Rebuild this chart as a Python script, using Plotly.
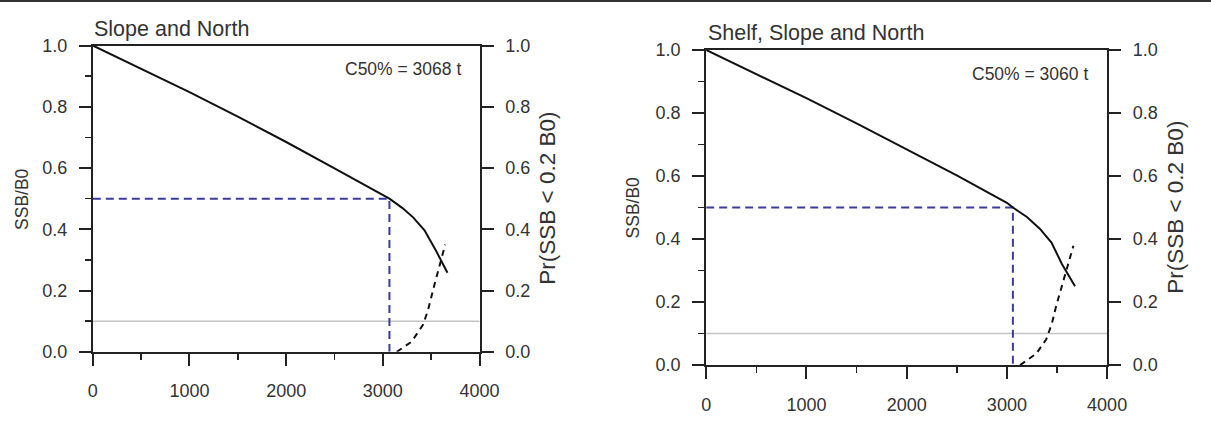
import plotly.graph_objects as go

# ---------------- data ----------------
panel_titles = ["Slope and North", "Shelf, Slope and North"]
c50_values = [3068, 3060]

# Left panel: Slope and North
left_catch = [0, 500, 1000, 1500, 2000, 2500, 3000, 3068, 3200, 3313, 3431, 3550, 3668]
left_ssb = [1.0, 0.925, 0.848, 0.768, 0.685, 0.599, 0.512, 0.5, 0.47, 0.439, 0.397, 0.33, 0.258]
left_pr_catch = [3144, 3297, 3415, 3465, 3532, 3590, 3645]
left_pr = [0.0, 0.033, 0.088, 0.134, 0.217, 0.289, 0.35]

# Right panel: Shelf, Slope and North
right_catch = [0, 500, 1000, 1500, 2000, 2500, 3000, 3060, 3200, 3328, 3445, 3550, 3680]
right_ssb = [1.0, 0.924, 0.847, 0.767, 0.684, 0.602, 0.515, 0.5, 0.47, 0.433, 0.389, 0.32, 0.25]
right_pr_catch = [3132, 3295, 3393, 3449, 3491, 3540, 3596, 3664]
right_pr = [0.0, 0.037, 0.082, 0.132, 0.187, 0.243, 0.30, 0.379]

ref_level = [0.1, 0.1]
ref_x = [0, 4000]
target_level = 0.5

x_ticks = [0, 1000, 2000, 3000, 4000]
y_ticks = [0.0, 0.2, 0.4, 0.6, 0.8, 1.0]
y_ticklabels = ["0.0", "0.2", "0.4", "0.6", "0.8", "1.0"]

# ---------------- figure ----------------
PAGE_W, PAGE_H = 1211, 423
BODY = 8                      # default browser body margin
W, H = PAGE_W - 2 * BODY, PAGE_H - 2 * BODY
FONT = "Liberation Sans, Arial, sans-serif"
TXT = "#333333"
AX = "#222222"
BLUE = "#3b3b9e"

fig = go.Figure()

panels = [
    dict(xa="x", ya="y", ya2="y2", catch=left_catch, ssb=left_ssb,
         pc=left_pr_catch, pr=left_pr, c50=c50_values[0]),
    dict(xa="x2", ya="y3", ya2="y4", catch=right_catch, ssb=right_ssb,
         pc=right_pr_catch, pr=right_pr, c50=c50_values[1]),
]

for p in panels:
    fig.add_trace(go.Scatter(x=ref_x, y=ref_level, xaxis=p["xa"], yaxis=p["ya"],
                             mode="lines", line=dict(color="#c4c4c4", width=1.5),
                             showlegend=False, hoverinfo="skip"))
    fig.add_trace(go.Scatter(x=[0, p["c50"], p["c50"]], y=[target_level, target_level, 0],
                             xaxis=p["xa"], yaxis=p["ya"], mode="lines",
                             line=dict(color=BLUE, width=2, dash="8px,5px"),
                             showlegend=False, hoverinfo="skip"))
    fig.add_trace(go.Scatter(x=p["catch"], y=p["ssb"], xaxis=p["xa"], yaxis=p["ya"],
                             mode="lines", line=dict(color="#111111", width=2),
                             showlegend=False))
    fig.add_trace(go.Scatter(x=p["pc"], y=p["pr"], xaxis=p["xa"], yaxis=p["ya2"],
                             mode="lines", line=dict(color="#111111", width=2, dash="6px,5px"),
                             showlegend=False))

# page pixel -> paper fraction
def px_x(v):
    return (v - BODY) / W

def px_y(v):
    return (H - (v - BODY)) / H

tickfont = dict(family=FONT, size=18, color=TXT)

def xaxis_cfg(domain, anchor):
    return dict(domain=domain, anchor=anchor, range=[0, 4000], tickvals=x_ticks,
                showline=True, mirror=True, linecolor=AX, linewidth=2,
                ticks="outside", ticklen=12, tickwidth=2, tickcolor=AX,
                minor=dict(dtick=500, tick0=0, ticks="outside", ticklen=6, tickwidth=1.5,
                           tickcolor=AX, showgrid=False),
                showgrid=False, zeroline=False, tickfont=tickfont,
                ticklabelstandoff=10, fixedrange=True)

def yaxis_cfg(domain, anchor):
    return dict(domain=domain, anchor=anchor, range=[0, 1], tickvals=y_ticks,
                ticktext=y_ticklabels,
                showline=True, linecolor=AX, linewidth=2,
                ticks="outside", ticklen=12, tickwidth=2, tickcolor=AX,
                minor=dict(dtick=0.1, tick0=0, ticks="outside", ticklen=6, tickwidth=1.5,
                           tickcolor=AX, showgrid=False),
                showgrid=False, zeroline=False, tickfont=tickfont,
                ticklabelstandoff=8, fixedrange=True)

def yaxis_right_cfg(overlay, anchor):
    return dict(overlaying=overlay, anchor=anchor, side="right", range=[0, 1],
                tickvals=y_ticks, ticktext=y_ticklabels,
                showline=True, linecolor=AX, linewidth=2,
                ticks="outside", ticklen=12, tickwidth=2, tickcolor=AX,
                showgrid=False, zeroline=False, tickfont=tickfont,
                ticklabelstandoff=8, fixedrange=True)

L_dom_x = [px_x(89.5), px_x(484.5)]
L_dom_y = [px_y(360), px_y(37)]
R_dom_x = [px_x(716), px_x(1125.5)]
R_dom_y = [px_y(374), px_y(41.7)]

fig.update_layout(
    width=W, height=H,
    margin=dict(l=0, r=0, t=0, b=0),
    paper_bgcolor="white", plot_bgcolor="white",
    showlegend=False,
    xaxis=xaxis_cfg(L_dom_x, "y"),
    yaxis=yaxis_cfg(L_dom_y, "x"),
    yaxis2=yaxis_right_cfg("y", "x"),
    xaxis2=xaxis_cfg(R_dom_x, "y3"),
    yaxis3=yaxis_cfg(R_dom_y, "x2"),
    yaxis4=yaxis_right_cfg("y3", "x2"),
)

annotations = []
annotations.append(dict(text=panel_titles[0], x=px_x(89), y=px_y(20), xref="paper", yref="paper",
                        xanchor="left", yanchor="middle", showarrow=False,
                        font=dict(family=FONT, size=21.5, color=TXT)))
annotations.append(dict(text=panel_titles[1], x=px_x(716), y=px_y(24), xref="paper", yref="paper",
                        xanchor="left", yanchor="middle", showarrow=False,
                        font=dict(family=FONT, size=21.5, color=TXT)))
annotations.append(dict(text=f"C50% = {c50_values[0]} t", x=3825, y=0.923, xref="x", yref="y",
                        xanchor="right", yanchor="middle", showarrow=False,
                        font=dict(family=FONT, size=17.5, color=TXT)))
annotations.append(dict(text=f"C50% = {c50_values[1]} t", x=3825, y=0.923, xref="x2", yref="y3",
                        xanchor="right", yanchor="middle", showarrow=False,
                        font=dict(family=FONT, size=17.5, color=TXT)))
for xc, yc in [(17, 199), (641, 208)]:
    annotations.append(dict(text="SSB/B0", x=px_x(xc), y=px_y(yc), xref="paper", yref="paper",
                            xanchor="center", yanchor="middle", textangle=-90, showarrow=False,
                            font=dict(family=FONT, size=17.5, color=TXT)))
for xc, yc in [(554, 198), (1196, 208)]:
    annotations.append(dict(text="Pr(SSB < 0.2 B0)", x=px_x(xc), y=px_y(yc), xref="paper", yref="paper",
                            xanchor="center", yanchor="middle", textangle=-90, showarrow=False,
                            font=dict(family=FONT, size=22.5, color=TXT)))
fig.update_layout(annotations=annotations)

fig.write_html(
    "out.html",
    config={"displayModeBar": False, "staticPlot": True},
    post_script=("document.documentElement.style.background="
                 "'linear-gradient(to bottom, #333 0px, #333 2px, #fff 2px)';"
                 "document.body.style.background='transparent';"),
)
